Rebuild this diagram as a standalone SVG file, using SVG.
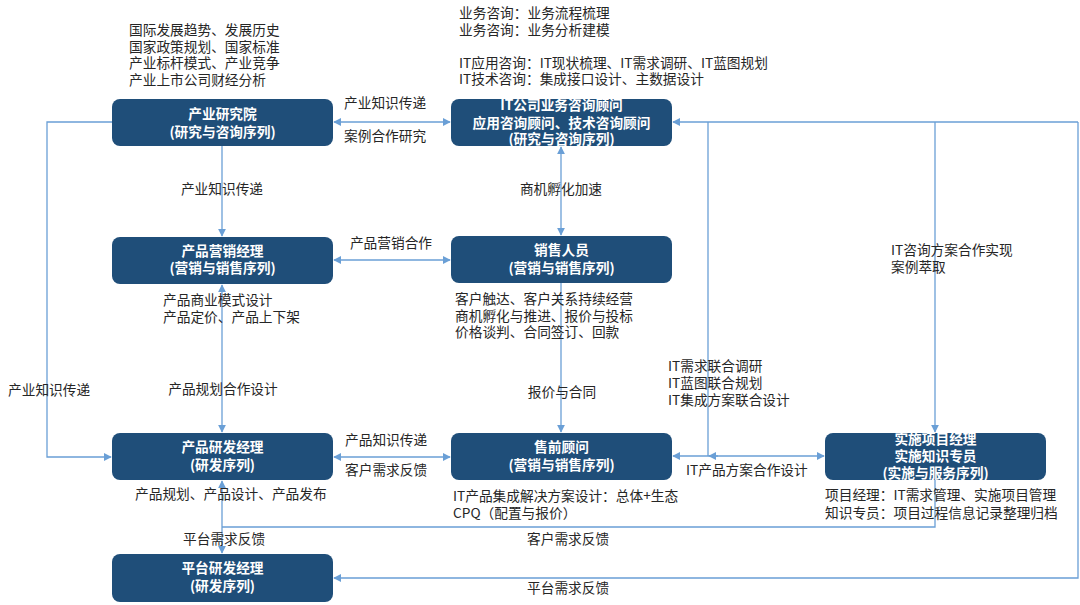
<svg xmlns="http://www.w3.org/2000/svg" width="1080" height="605" viewBox="0 0 1080 605">
<defs>
<marker id="ah" viewBox="0 0 10 10" refX="9" refY="5" markerWidth="8" markerHeight="8" markerUnits="userSpaceOnUse" orient="auto-start-reverse">
<path d="M0,0 L10,5 L0,10 z" fill="#6a9fd6"/>
</marker>
<style>
.box{fill:#1f4e79;}
.bt{fill:#ffffff;font-family:"Noto Sans CJK SC","Noto Sans",sans-serif;font-size:13.7px;font-weight:bold;text-anchor:middle;}
.t{fill:#262626;font-family:"Noto Sans CJK SC","Noto Sans",sans-serif;font-size:13.7px;}
.m{text-anchor:middle;}
.c{fill:none;stroke:#6a9fd6;stroke-width:1.3;}
</style>
</defs>
<rect width="1080" height="605" fill="#ffffff"/>

<g id="connectors">
<path class="c" d="M112,122 H47 V457 H111" marker-end="url(#ah)"/>
<path class="c" d="M334,122 H450" marker-start="url(#ah)" marker-end="url(#ah)"/>
<path class="c" d="M222,146 V236" marker-end="url(#ah)"/>
<path class="c" d="M561,147 V235" marker-start="url(#ah)" marker-end="url(#ah)"/>
<path class="c" d="M334,260 H450" marker-start="url(#ah)" marker-end="url(#ah)"/>
<path class="c" d="M222,285 V432" marker-start="url(#ah)" marker-end="url(#ah)"/>
<path class="c" d="M561,283 V432" marker-end="url(#ah)"/>
<path class="c" d="M334,457 H450" marker-start="url(#ah)" marker-end="url(#ah)"/>
<path class="c" d="M673,456 H824" marker-start="url(#ah)" marker-end="url(#ah)"/>
<path class="c" d="M708,122 V456"/>
<path class="c" d="M718,456 H709" marker-end="url(#ah)"/>
<path class="c" d="M1078,122 H673" marker-end="url(#ah)"/>
<path class="c" d="M935,122 V432" marker-end="url(#ah)"/>
<path class="c" d="M935,480 V527 H222"/>
<path class="c" d="M222,481 V553" marker-start="url(#ah)" marker-end="url(#ah)"/>
<path class="c" d="M1078,122 V578 H334" marker-end="url(#ah)"/>
</g>

<g id="node-chanye">
<rect class="box" x="112" y="99" width="221" height="47" rx="8"/>
<text class="bt" x="222.5" y="119">产业研究院</text>
<text class="bt" x="222.5" y="137">(研究与咨询序列)</text>
</g>

<g id="node-it">
<rect class="box" x="451" y="99" width="221" height="47" rx="8"/>
<text class="bt" x="561.5" y="110">IT公司业务咨询顾问</text>
<text class="bt" x="561.5" y="128">应用咨询顾问、技术咨询顾问</text>
<text class="bt" x="561.5" y="144">(研究与咨询序列)</text>
</g>

<g id="node-yingxiao">
<rect class="box" x="112" y="237" width="221" height="47" rx="8"/>
<text class="bt" x="222.5" y="256">产品营销经理</text>
<text class="bt" x="222.5" y="273">(营销与销售序列)</text>
</g>

<g id="node-xiaoshou">
<rect class="box" x="451" y="236" width="221" height="47" rx="8"/>
<text class="bt" x="561.5" y="255">销售人员</text>
<text class="bt" x="561.5" y="273">(营销与销售序列)</text>
</g>

<g id="node-yanfa">
<rect class="box" x="112" y="433" width="221" height="47" rx="8"/>
<text class="bt" x="222.5" y="452">产品研发经理</text>
<text class="bt" x="222.5" y="470">(研发序列)</text>
</g>

<g id="node-shouqian">
<rect class="box" x="451" y="433" width="221" height="47" rx="8"/>
<text class="bt" x="561.5" y="452">售前顾问</text>
<text class="bt" x="561.5" y="470">(营销与销售序列)</text>
</g>

<g id="node-shishi">
<rect class="box" x="825" y="433" width="221" height="47" rx="8"/>
<text class="bt" x="935.5" y="444">实施项目经理</text>
<text class="bt" x="935.5" y="461">实施知识专员</text>
<text class="bt" x="935.5" y="478">(实施与服务序列)</text>
</g>

<g id="node-pingtai">
<rect class="box" x="112" y="554" width="221" height="48" rx="8"/>
<text class="bt" x="222.5" y="573">平台研发经理</text>
<text class="bt" x="222.5" y="591">(研发序列)</text>
</g>

<g id="labels">
<text class="t" x="129" y="35">国际发展趋势、发展历史</text>
<text class="t" x="129" y="51.5">国家政策规划、国家标准</text>
<text class="t" x="129" y="68">产业标杆模式、产业竞争</text>
<text class="t" x="129" y="84.5">产业上市公司财经分析</text>

<text class="t" x="459" y="18">业务咨询：业务流程梳理</text>
<text class="t" x="459" y="35">业务咨询：业务分析建模</text>
<text class="t" x="459" y="68">IT应用咨询：IT现状梳理、IT需求调研、IT蓝图规划</text>
<text class="t" x="459" y="84">IT技术咨询：集成接口设计、主数据设计</text>

<text class="t" x="344" y="108">产业知识传递</text>
<text class="t" x="344" y="141">案例合作研究</text>
<text class="t m" x="222" y="194">产业知识传递</text>
<text class="t m" x="561" y="194">商机孵化加速</text>
<text class="t m" x="391" y="248">产品营销合作</text>

<text class="t" x="163" y="305">产品商业模式设计</text>
<text class="t" x="163" y="322">产品定价、产品上下架</text>

<text class="t" x="455" y="304">客户触达、客户关系持续经营</text>
<text class="t" x="455" y="321">商机孵化与推进、报价与投标</text>
<text class="t" x="455" y="337">价格谈判、合同签订、回款</text>

<text class="t" x="891" y="255">IT咨询方案合作实现</text>
<text class="t" x="891" y="272">案例萃取</text>

<text class="t" x="668" y="371">IT需求联合调研</text>
<text class="t" x="668" y="388">IT蓝图联合规划</text>
<text class="t" x="668" y="405">IT集成方案联合设计</text>

<text class="t" x="8" y="395">产业知识传递</text>
<text class="t m" x="223" y="394">产品规划合作设计</text>
<text class="t m" x="562" y="397">报价与合同</text>

<text class="t" x="345" y="445">产品知识传递</text>
<text class="t" x="345" y="475">客户需求反馈</text>
<text class="t" x="686" y="475">IT产品方案合作设计</text>

<text class="t" x="135" y="499">产品规划、产品设计、产品发布</text>
<text class="t" x="453" y="501">IT产品集成解决方案设计：总体+生态</text>
<text class="t" x="453" y="518">CPQ（配置与报价）</text>
<text class="t" x="825" y="500">项目经理：IT需求管理、实施项目管理</text>
<text class="t" x="825" y="518">知识专员：项目过程信息记录整理归档</text>

<text class="t" x="183" y="544">平台需求反馈</text>
<text class="t" x="527" y="544">客户需求反馈</text>
<text class="t" x="527" y="593">平台需求反馈</text>
</g>
</svg>
